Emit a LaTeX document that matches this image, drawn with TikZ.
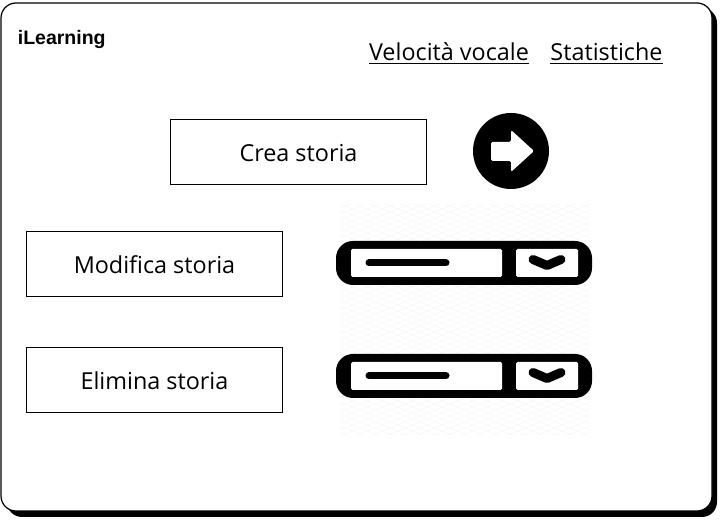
\documentclass[tikz,border=0pt]{standalone}
\usepackage{fontspec}
\setmainfont{Open Sans}
\newfontfamily\logofont{Liberation Sans}
\usetikzlibrary{positioning}
\tikzset{
  menubox/.style={draw, line width=0.6pt, minimum width=5.12cm, minimum height=1.3cm, text height=0.4cm, text depth=0.01cm, font=\fontsize{13.3}{16}\selectfont},
  toplink/.style={font=\fontsize{13.3}{16}\selectfont},
  combobar/.style={fill=black, rounded corners=0.34cm},
  hatch/.style={black!3, line width=0.3pt}
}
\newcommand{\combobox}[1]{
  % bar, two white fields, line and chevron
  \fill[combobar] (6.72,#1-0.44) rectangle (11.84,#1+0.44);
  \fill[white, rounded corners=0.03cm] (7.02,#1-0.28) rectangle (10.04,#1+0.28);
  \fill[white, rounded corners=0.03cm] (10.32,#1-0.28) rectangle (11.56,#1+0.28);
  \draw[line width=0.14cm, line cap=round] (7.38,#1) -- (8.92,#1);
  \draw[line width=0.18cm, line cap=round, line join=round] (10.66,#1+0.07) -- (10.94,#1-0.05) -- (11.22,#1+0.07);
}
\begin{document}
\begin{tikzpicture}
\useasboundingbox (0,0) rectangle (14.44,10.46);
\fill[white] (0,0) rectangle (14.44,10.46);
% frame with shadow
\fill[black] (0.14,0.12) [rounded corners=0.3cm] rectangle (14.34,10.3);
\filldraw[fill=white, draw=black, line width=0.7pt, rounded corners=0.3cm] (0.02,0.24) rectangle (14.24,10.4);

\node[font=\logofont\bfseries\fontsize{11.1}{13}\selectfont, anchor=west, inner sep=0] (logo) at (0.35,9.66) {iLearning};
\node[toplink, anchor=base, inner sep=0] (speed) at (8.98,9.24) {\underline{Velocità vocale}};
\node[toplink, anchor=base, inner sep=0] (stats) at (12.13,9.24) {\underline{Statistiche}};

\node[menubox] (create) at (5.97,7.42) {Crea storia};
\node[menubox] (edit) at (3.09,5.18) {Modifica storia};
\node[menubox] (remove) at (3.09,2.86) {Elimina storia};

% faint background of the two icons
\begin{scope}
\clip (6.8,1.76) rectangle (11.8,6.36);
\foreach \k in {0,...,56} {
  \draw[hatch] (6.8,{-0.3+\k*0.12}) -- ++(5,2);
  \draw[hatch] (6.8,{1.7+\k*0.12}) -- ++(5,-2);
}
\end{scope}

% arrow icon
\fill (10.22,7.44) circle (0.76);
\fill[white, rounded corners=0.03cm] (9.82,7.24) -- (10.22,7.24) -- (10.22,7.02) -- (10.68,7.44) -- (10.22,7.86) -- (10.22,7.62) -- (9.82,7.62) -- cycle;

\combobox{5.2}
\combobox{2.94}
\end{tikzpicture}
\end{document}
